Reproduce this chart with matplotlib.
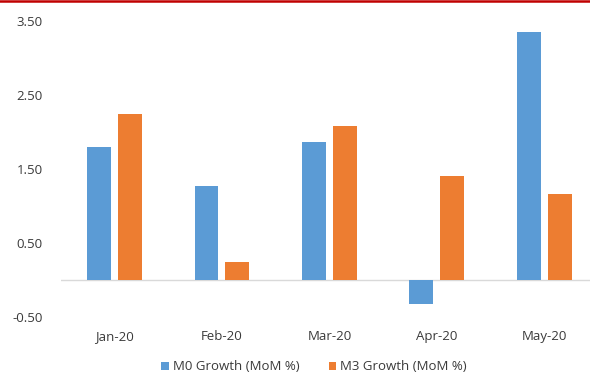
import numpy as np
import matplotlib
matplotlib.use("Agg")
import matplotlib.pyplot as plt
from matplotlib.lines import Line2D

months = ["Jan-20", "Feb-20", "Mar-20", "Apr-20", "May-20"]
m0_growth = [1.80, 1.27, 1.86, -0.33, 3.35]
m3_growth = [2.24, 0.24, 2.08, 1.40, 1.16]
series_names = ["M0 Growth (MoM %)", "M3 Growth (MoM %)"]
y_ticks = [3.50, 2.50, 1.50, 0.50, -0.50]

plt.rcParams["font.family"] = ["Open Sans", "DejaVu Sans"]
text_color = "#3a3a3a"

fig = plt.figure(figsize=(5.9, 3.74), dpi=100)
ax = fig.add_axes([60.8 / 590, 57 / 374, (598 - 60.8) / 590, (317 - 21) / 374])

x = np.arange(len(months))
width = 0.223
offset = 0.144
ax.bar(x - offset, m0_growth, width, color="#5B9BD5", label=series_names[0])
ax.bar(x + offset, m3_growth, width, color="#ED7D31", label=series_names[1])

ax.axhline(0, color="#d9d9d9", linewidth=1.0, zorder=0)
ax.set_xlim(-0.5, len(months) - 0.5)
ax.set_ylim(-0.5, 3.5)
ax.set_yticks(y_ticks)
ax.set_yticklabels([f"{t:.2f}" for t in y_ticks])
ax.set_xticks(x)
ax.set_xticklabels(months)
ax.tick_params(axis="y", length=0, pad=13, labelsize=9.5, labelcolor=text_color)
ax.tick_params(axis="x", length=0, pad=9.5, labelsize=9.5, labelcolor=text_color)
for spine in ax.spines.values():
    spine.set_visible(False)

fig.legend(loc="center", bbox_to_anchor=(314 / 590, 1 - 367 / 374), ncol=2,
           frameon=False, fontsize=9.5, handlelength=0.6, handleheight=0.6,
           handletextpad=0.3, columnspacing=2.2, labelcolor=text_color)

# thin red rule along the top edge
fig.add_artist(Line2D([0, 1], [1 - 1 / 374, 1 - 1 / 374], color="#c00000",
                      linewidth=1.8, transform=fig.transFigure))

fig.savefig("out.png", dpi=100)
